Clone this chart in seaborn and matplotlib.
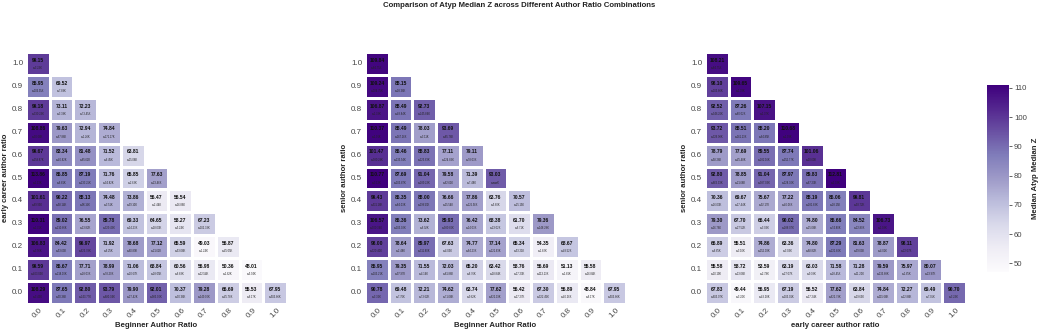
import numpy as np
import pandas as pd
import matplotlib
matplotlib.use("Agg")
import matplotlib.pyplot as plt
import seaborn as sns

sns.set_theme(style="white")
plt.rcParams['font.family'] = ['Liberation Sans', 'DejaVu Sans']

ratios = [0.0, 0.1, 0.2, 0.3, 0.4, 0.5, 0.6, 0.7, 0.8, 0.9, 1.0]
y_ratios = ratios[::-1]  # 1.0 at top

title = "Comparison of Atyp Median Z across Different Author Ratio Combinations"
x_labels = ["Beginner Author Ratio", "Beginner Author Ratio", "early career author ratio"]
y_labels = ["early career author ratio", "senior author ratio", "senior author ratio"]
cbar_label = "Median Atyp Median Z"

# rows listed from y=1.0 (top) down to y=0.0
p1_vals = [
    [99.15],
    [85.95, 69.52],
    [99.18, 73.11, 72.23],
    [108.86, 79.63, 72.94, 74.84],
    [99.67, 83.34, 81.48, 71.52, 63.81],
    [113.86, 86.85, 87.19, 71.76, 65.85, 77.63],
    [101.61, 90.22, 88.13, 74.48, 73.86, 56.47, 56.54],
    [110.31, 89.02, 76.55, 89.78, 69.33, 64.65, 58.27, 67.23],
    [106.83, 84.42, 96.97, 71.92, 78.68, 77.12, 65.59, 49.03, 56.87],
    [99.59, 86.67, 77.71, 78.99, 71.06, 68.84, 60.56, 56.98, 50.36, 48.01],
    [108.29, 87.65, 92.80, 93.79, 79.90, 92.01, 70.37, 79.28, 66.69, 55.53, 67.95],
]
p1_n = [
    [3.23],
    [106.95, 7.89],
    [330.23, 3.39, 73.45],
    [30.68, 67.86, 1.26, 171.17],
    [159.87, 40.82, 85.62, 6.45, 15.08],
    [1.13, 6.81, 233.25, 34.82, 2.63, 23.46],
    [69.93, 58.14, 96.15, 3.51, 99.10, 2.44, 16.86],
    [1.31, 210.66, 13.82, 329.43, 14.23, 18.03, 5.24, 102.33],
    [3.56, 53.63, 623.78, 6.25, 60.89, 21.62, 53.08, 1.24, 45.05],
    [403.03, 218.10, 28.03, 78.20, 20.67, 28.05, 6.83, 12.54, 1.62, 5.94],
    [3.43, 90.36, 243.77, 680.34, 27.42, 983.00, 30.36, 149.00, 45.78, 6.17, 503.86],
]

p2_vals = [
    [109.84],
    [109.24, 88.15],
    [106.87, 88.49, 92.73],
    [110.37, 88.49, 78.03, 93.69],
    [101.47, 86.46, 88.83, 77.11, 79.11],
    [110.77, 87.69, 91.04, 79.58, 71.39, 93.03],
    [99.43, 86.35, 88.00, 76.66, 77.86, 63.76, 70.57],
    [106.57, 86.36, 73.62, 89.93, 76.42, 68.38, 61.70, 79.36],
    [98.00, 78.64, 89.97, 67.63, 74.77, 77.14, 65.34, 54.35, 68.67],
    [85.95, 79.35, 71.55, 72.03, 65.20, 63.42, 58.76, 56.69, 51.13, 55.58],
    [90.78, 69.48, 72.21, 74.62, 63.74, 77.62, 56.42, 67.30, 56.89, 48.84, 67.95],
]
p2_n = [
    [84.75],
    [184.75, 28.36],
    [1.33, 48.84, 245.84],
    [1.91, 167.16, 3.11, 85.76],
    [380.29, 133.54, 123.63, 124.83, 78.03],
    [3.13, 103.87, 289.23, 62.61, 7.48],
    [511.18, 84.03, 199.59, 15.54, 125.56, 5.60, 25.15],
    [300.34, 103.02, 6.92, 380.86, 14.03, 23.02, 6.71, 148.28],
    [320.40, 2.48, 311.80, 4.03, 64.23, 121.63, 53.21, 1.82, 48.52],
    [103.21, 97.97, 4.14, 81.86, 6.76, 18.84, 17.23, 113.13, 1.81, 16.84],
    [3.32, 7.76, 73.62, 71.08, 9.62, 622.19, 17.27, 322.45, 40.26, 6.17, 503.86],
]

p3_vals = [
    [108.21],
    [98.10, 109.65],
    [92.52, 87.26, 107.15],
    [93.72, 88.51, 88.20, 110.68],
    [78.79, 77.69, 89.55, 87.74, 101.06],
    [92.80, 78.85, 91.04, 87.97, 89.83, 112.81],
    [70.36, 69.67, 75.67, 77.22, 88.19, 86.06, 99.81],
    [79.30, 67.70, 66.44, 90.02, 74.80, 86.66, 84.52, 106.73],
    [66.89, 55.51, 74.86, 63.36, 74.80, 87.29, 81.63, 78.87, 98.11],
    [55.58, 58.72, 53.59, 63.19, 63.03, 71.58, 71.28, 79.59, 75.97, 80.07],
    [67.83, 49.44, 56.95, 67.19, 56.52, 77.62, 63.84, 74.84, 72.27, 69.49, 90.70],
]
p3_n = [
    [84.75],
    [103.86, 1.39],
    [346.26, 80.02, 1.37],
    [326.98, 161.13, 64.85, 1.99],
    [58.26, 45.48, 282.16, 152.77, 10.60],
    [663.33, 21.68, 387.03, 128.30, 67.23, 1.33],
    [26.03, 17.44, 92.17, 40.06, 281.83, 28.15, 93.72],
    [16.76, 27.52, 3.03, 288.07, 25.08, 74.80, 22.80, 1.08],
    [6.85, 3.10, 152.03, 3.03, 68.82, 221.80, 99.03, 4.01, 22.07],
    [10.19, 13.06, 2.78, 27.07, 9.38, 28.45, 11.20, 133.68, 1.85, 23.97],
    [603.07, 3.20, 43.28, 103.01, 17.24, 622.79, 19.63, 115.68, 12.88, 7.05, 3.23],
]

panels = [(p1_vals, p1_n), (p2_vals, p2_n), (p3_vals, p3_n)]


def to_frame(rows):
    mat = np.full((len(rows), len(ratios)), np.nan)
    for i, r in enumerate(rows):
        mat[i, :len(r)] = r
    return pd.DataFrame(mat, index=[f"{v:.1f}" for v in y_ratios],
                        columns=[f"{v:.1f}" for v in ratios])


W, H = 1038, 334
fig = plt.figure(figsize=(W / 100, H / 100), dpi=100)
lefts = [26, 365, 705]
axes = [fig.add_axes([l / W, 1 - 304 / H, 261 / W, 252 / H]) for l in lefts]
cax = fig.add_axes([987 / W, 1 - 272 / H, 22 / W, 187 / H])

vmin, vmax = 47.0, 111.0
for k, (ax, (vals, ns)) in enumerate(zip(axes, panels)):
    df = to_frame(vals)
    nf = to_frame(ns)
    sns.heatmap(df, ax=ax, cmap="Purples", vmin=vmin, vmax=vmax,
                linewidths=0.8, linecolor="white", square=False,
                cbar=(k == 0), cbar_ax=cax if k == 0 else None,
                annot=False)
    for i in range(df.shape[0]):
        for j in range(df.shape[1]):
            v = df.iat[i, j]
            if np.isnan(v):
                continue
            ax.text(j + 0.5, i + 0.36, f"{v:.2f}", ha="center", va="center",
                    fontsize=3.6, fontweight="bold", color="#111111")
            ax.text(j + 0.5, i + 0.70, f"n={nf.iat[i, j]:.2f}K", ha="center",
                    va="center", fontsize=1.9, color="#222222")
    ax.set_xlabel(x_labels[k], fontsize=5.6, fontweight="bold", labelpad=2)
    ax.set_ylabel(y_labels[k], fontsize=5.6, fontweight="bold", labelpad=2)
    ax.tick_params(axis="both", length=0, pad=2, labelsize=5.8, labelcolor="#444444")
    ax.set_xticklabels(ax.get_xticklabels(), rotation=45)
    ax.set_yticklabels(ax.get_yticklabels(), rotation=0)

cax.tick_params(labelsize=5.6, length=2, width=0.5, pad=1.5, labelcolor="#444444")
cax.set_ylabel(cbar_label, fontsize=5.6, fontweight="bold", labelpad=4)
for s in cax.spines.values():
    s.set_visible(False)

fig.suptitle(title, x=0.5, y=0.995, fontsize=5.6, fontweight="bold", color="#222222")
fig.savefig("out.png", dpi=100)
